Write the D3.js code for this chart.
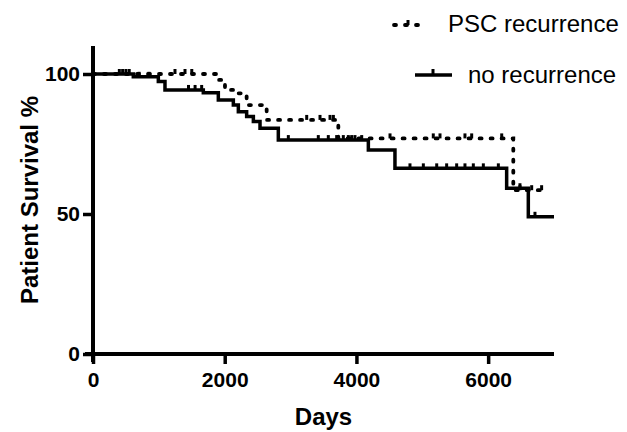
<!DOCTYPE html>
<html>
<head>
<meta charset="utf-8">
<script src="https://cdn.jsdelivr.net/npm/d3@7.9.0/dist/d3.min.js"></script>
<style>
  body { margin: 0; background: #fff; }
  svg { display: block; font-family: "Liberation Sans", Arial, sans-serif; }
</style>
</head>
<body>
<svg width="627" height="432"></svg>
<script>
// Kaplan-Meier steps
const pscTimes = [0, 1878, 2004, 2156, 2333, 2637, 3725, 6382, 6870];
const pscSurv = [100, 97.9, 94.3, 93.1, 88.9, 83.6, 77.0, 58.5, 58.5];
const pscCensor = [450, 550, 1245, 1397, 1500, 3245, 3447, 3599, 3650, 4510, 5167, 5269, 5648, 5750, 6206, 6483, 6661, 6812];

const noRecTimes = [0, 612, 992, 1093, 1675, 1903, 2131, 2207, 2333, 2435, 2536, 2814, 4181, 4585, 6281, 6610, 7000];
const noRecSurv = [100, 99.0, 97.3, 94.3, 93.3, 90.7, 88.9, 86.5, 84.8, 83.0, 80.6, 76.4, 72.9, 66.3, 59.2, 49.0, 49.0];
const noRecCensor = [400, 500, 700, 850, 1450, 1550, 1650, 2966, 3421, 3573, 3700, 3801, 3877, 3928, 3978, 4080, 4813, 5016, 5219, 5370, 5522, 5648, 5775, 5927, 6155, 6483, 6711];

const xTicks = [0, 2000, 4000, 6000];
const yTicks = [0, 50, 100];
const seriesNames = ['PSC recurrence', 'no recurrence'];

const svg = d3.select('svg');
const x = d3.scaleLinear().domain([0, 7000]).range([93, 554]);
const y = d3.scaleLinear().domain([0, 110]).range([354, 46]);

// axes
const xAxis = svg.append('g').attr('transform', `translate(0,${y(0)})`)
  .call(d3.axisBottom(x).tickValues(xTicks).tickSize(10).tickPadding(8).tickFormat(d => d === 0 ? '0' : d3.format('d')(d)));
const yAxis = svg.append('g').attr('transform', `translate(${x(0)},0)`)
  .call(d3.axisLeft(y).tickValues(yTicks).tickSize(10).tickPadding(3));
[xAxis, yAxis].forEach(g => {
  g.select('.domain').remove();
  g.selectAll('line').attr('stroke', '#000').attr('stroke-width', 3.5);
  g.selectAll('text').attr('fill', '#000').attr('font-size', 21).attr('font-weight', 'bold')
    .attr('font-family', '"Liberation Sans", Arial, sans-serif');
});
xAxis.selectAll('text').attr('dy', '0.71em');
// axis lines
svg.append('line').attr('x1', x(0) - 8).attr('x2', x(7000)).attr('y1', y(0)).attr('y2', y(0))
  .attr('stroke', '#000').attr('stroke-width', 4);
svg.append('line').attr('x1', x(0)).attr('x2', x(0)).attr('y1', y(110)).attr('y2', y(0) + 8)
  .attr('stroke', '#000').attr('stroke-width', 4);

svg.append('text').attr('x', (x(0) + x(7000)) / 2).attr('y', 425).attr('text-anchor', 'middle')
  .attr('font-size', 24).attr('font-weight', 'bold').text('Days');
svg.append('text').attr('transform', `translate(38,${(y(0) + y(110)) / 2}) rotate(-90)`)
  .attr('text-anchor', 'middle').attr('font-size', 24).attr('font-weight', 'bold').text('Patient Survival %');

const line = d3.line().x(d => x(d[0])).y(d => y(d[1])).curve(d3.curveStepAfter);

function stepAt(times, surv, t) {
  let v = surv[0];
  times.forEach((tt, i) => { if (tt <= t) v = surv[i]; });
  return v;
}

function drawSeries(times, surv, censor, dashed) {
  const pts = times.map((t, i) => [t, surv[i]]);
  svg.append('path').attr('d', line(pts)).attr('fill', 'none').attr('stroke', '#000')
    .attr('stroke-width', dashed ? 3.8 : 3.5)
    .attr('stroke-dasharray', dashed ? '2,9' : null)
    .attr('stroke-linecap', dashed ? 'round' : 'butt');
  svg.append('g').selectAll('line').data(censor).join('line')
    .attr('x1', d => x(d)).attr('x2', d => x(d))
    .attr('y1', d => y(stepAt(times, surv, d))).attr('y2', d => y(stepAt(times, surv, d)) - 5)
    .attr('stroke', '#000').attr('stroke-width', 3);
}

drawSeries(noRecTimes, noRecSurv, noRecCensor, false);
drawSeries(pscTimes, pscSurv, pscCensor, true);

// legend
const leg = svg.append('g');
leg.append('line').attr('x1', 394).attr('x2', 422).attr('y1', 25).attr('y2', 25)
  .attr('stroke', '#000').attr('stroke-width', 3.8).attr('stroke-dasharray', '2,9').attr('stroke-linecap', 'round');
leg.append('line').attr('x1', 408).attr('x2', 408).attr('y1', 25).attr('y2', 20).attr('stroke', '#000').attr('stroke-width', 3);
leg.append('text').attr('x', 448).attr('y', 32).attr('font-size', 24).text(seriesNames[0]);
leg.append('line').attr('x1', 415).attr('x2', 452).attr('y1', 75).attr('y2', 75).attr('stroke', '#000').attr('stroke-width', 3.5);
leg.append('line').attr('x1', 433).attr('x2', 433).attr('y1', 75).attr('y2', 69).attr('stroke', '#000').attr('stroke-width', 3);
leg.append('text').attr('x', 468).attr('y', 83).attr('font-size', 24).text(seriesNames[1]);
</script>
</body>
</html>
